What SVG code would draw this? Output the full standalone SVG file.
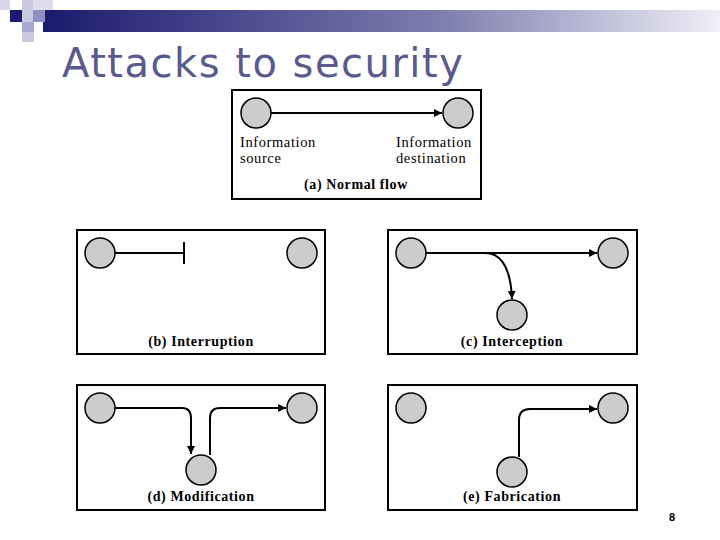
<svg xmlns="http://www.w3.org/2000/svg" width="720" height="540" viewBox="0 0 720 540">
<defs>
<linearGradient id="bar" x1="0" x2="1" y1="0" y2="0"><stop offset="0" stop-color="#1a1a6e"/><stop offset="0.6" stop-color="#8080b0"/><stop offset="1" stop-color="#f0f0f8"/></linearGradient>
<marker id="ah" viewBox="0 0 10 10" refX="10" refY="5" markerWidth="10" markerHeight="8" markerUnits="userSpaceOnUse" orient="auto"><path d="M0,0L10,5L0,10z" fill="#000"/></marker>
<style>
.p{fill:#fff;stroke:#000;stroke-width:2}
.n{fill:#ccc;stroke:#000;stroke-width:1.5}
.e{fill:none;stroke:#000;stroke-width:2}
.t{font-family:"Liberation Serif",serif;font-size:14.5px;letter-spacing:0.6px;fill:#000}
.b{font-family:"Liberation Serif",serif;font-size:14px;font-weight:bold;letter-spacing:0.6px;fill:#000;text-anchor:middle}
</style>
</defs>
<rect x="0" y="0" width="720" height="540" fill="#fff"/>
<rect x="43" y="10" width="677" height="22" fill="url(#bar)"/>
<rect x="0" y="0" width="10" height="10" fill="#d8d8ec"/>
<rect x="22" y="0" width="11" height="10" fill="#c8c8e0"/>
<rect x="33" y="0" width="20" height="10" fill="#dcdcee"/>
<rect x="10" y="10" width="12" height="12" fill="#1a1a6e"/>
<rect x="22" y="10" width="12" height="12" fill="#c8c8e0"/>
<rect x="33" y="10" width="12" height="12" fill="#9090c0"/>
<rect x="22" y="22" width="12" height="10" fill="#a8a8d0"/>
<rect x="22" y="32" width="12" height="10" fill="#c8c8e0"/>
<text x="62" y="77" font-family="DejaVu Sans,sans-serif" font-size="40" letter-spacing="1.5" fill="#5a5a8c">Attacks to security</text>
<text x="672" y="521" font-family="Liberation Sans,sans-serif" font-size="11" font-weight="bold" text-anchor="middle">8</text>
<rect class="p" x="232" y="90" width="249" height="109"/>
<rect class="p" x="77" y="230" width="248" height="124"/>
<rect class="p" x="388" y="230" width="249" height="124"/>
<rect class="p" x="77" y="385" width="248" height="125"/>
<rect class="p" x="388" y="385" width="249" height="125"/>
<g id="connectors">
<path class="e" d="M271,113H442" marker-end="url(#ah)"/>
<path class="e" d="M115,253H184M184,242V264"/>
<path class="e" d="M426,253H597" marker-end="url(#ah)"/>
<path class="e" d="M485,253Q510,253 512,299" marker-end="url(#ah)"/>
<path class="e" d="M115,408H182Q191,408 191,418V454" marker-end="url(#ah)"/>
<path class="e" d="M210,455V418Q210,408 220,408H286" marker-end="url(#ah)"/>
<path class="e" d="M519,457V420Q519,409 530,409H597" marker-end="url(#ah)"/>
</g>
<g id="a"><circle class="n" cx="256" cy="113" r="15"/><circle class="n" cx="458" cy="113" r="15"/>
<text class="t" x="240" y="147">Information</text><text class="t" x="240" y="163">source</text>
<text class="t" x="396" y="147">Information</text><text class="t" x="396" y="163">destination</text>
<text class="b" x="356" y="189">(a) Normal flow</text></g>
<g id="b"><circle class="n" cx="100" cy="253" r="15"/><circle class="n" cx="302" cy="253" r="15"/><text class="b" x="201" y="346">(b) Interruption</text></g>
<g id="c"><circle class="n" cx="411" cy="253" r="15"/><circle class="n" cx="613" cy="253" r="15"/><circle class="n" cx="512" cy="315" r="15"/><text class="b" x="512" y="346">(c) Interception</text></g>
<g id="d"><circle class="n" cx="100" cy="408" r="15"/><circle class="n" cx="302" cy="408" r="15"/><circle class="n" cx="201" cy="470" r="15"/><text class="b" x="201" y="501">(d) Modification</text></g>
<g id="e"><circle class="n" cx="411" cy="408" r="15"/><circle class="n" cx="613" cy="408" r="15"/><circle class="n" cx="512" cy="472" r="15"/><text class="b" x="512" y="501">(e) Fabrication</text></g>
</svg>
